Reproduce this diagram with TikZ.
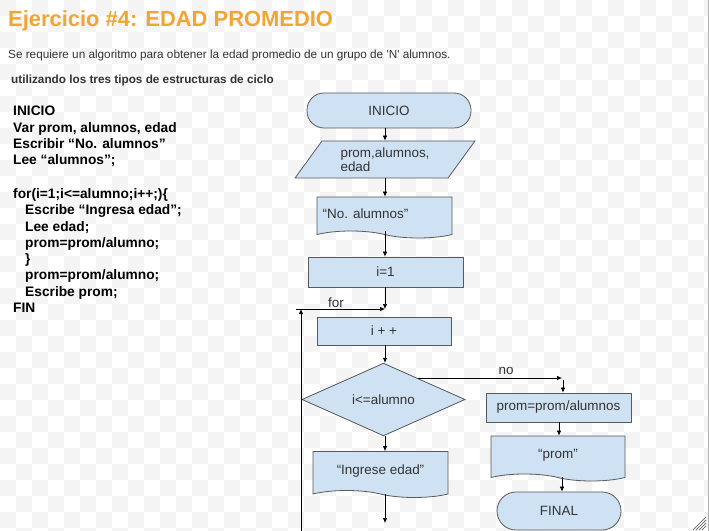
\documentclass[tikz,border=0pt]{standalone}
\usepackage{fontspec}
\setmainfont{Liberation Sans}
\usetikzlibrary{positioning,arrows.meta,shapes.geometric,shapes.symbols}
\definecolor{titleorange}{RGB}{240,166,52}
\definecolor{boxblue}{RGB}{207,226,243}
\definecolor{boxline}{RGB}{89,89,89}
\definecolor{chk}{RGB}{244,244,244}
\definecolor{txtgray}{RGB}{51,51,51}
\newcommand{\fs}[1]{\fontsize{#1}{#1}\selectfont}

\tikzset{
  shp/.style={draw=boxline,fill=boxblue,line width=0.8pt,font=\fs{13.5},text=txtgray,inner sep=2bp},
  terminal/.style={shp,rectangle,rounded corners=17bp,minimum height=35bp},
  procbox/.style={shp,rectangle,minimum height=29bp},
  inbox/.style={shp,trapezium,trapezium left angle=54,trapezium right angle=126,trapezium stretches=true,minimum height=37bp},
  docbox/.style={shp,tape,tape bend top=none,tape bend bottom=out and in,tape bend height=7bp},
  decision/.style={shp,diamond,minimum width=163bp,minimum height=55bp,inner sep=0pt},
  arrow/.style={draw=black,line width=0.7pt,-{Latex[length=5bp,width=4.5bp]}},
}

\begin{document}
\begin{tikzpicture}[x=1bp,y=-1bp]
\useasboundingbox (0,0) rectangle (709,531);
% checkered background
\fill[white] (0,0) rectangle (709,531);
\foreach \i in {0,...,44} {
  \foreach \j in {0,...,33} {
    \pgfmathparse{int(mod(\i+\j,2))}
    \ifnum\pgfmathresult=0 \fill[chk] (16*\i,16*\j) rectangle ++(16,16); \fi
  }
}
\draw[gray!60,line width=1pt] (708,0) -- (708,531);
\foreach \k in {4,7,10,13} {\draw[black!70,line width=0.5pt] (706-\k,530) -- (706,530-\k);}

% header
\node[anchor=base west,inner sep=0pt,font=\bfseries\fs{22},text=titleorange] (titulo) at (8,27) {Ejercicio \#4: EDAD PROMEDIO};
\node[anchor=base west,inner sep=0pt,font=\fs{11.8},text=txtgray] (enunciado) at (8,59) {Se requiere un algoritmo para obtener la edad promedio de un grupo de \textquotesingle N\textquotesingle\ alumnos.};
\node[anchor=base west,inner sep=0pt,font=\bfseries\fs{11.8},text=txtgray] (subtitulo) at (11,84) {utilizando los tres tipos de estructuras de ciclo};

% pseudocode
\node[anchor=north west,inner sep=0pt,align=left,font=\bfseries\fontsize{13.8}{16.3}\selectfont] (pseudo) at (13,106) {%
INICIO\\
Var prom, alumnos, edad\\
Escribir “No. alumnos”\\
Lee “alumnos”;\\[18bp]
for(i=1;i<=alumno;i++;)\{\\
\hspace*{12bp}Escribe “Ingresa edad”;\\
\hspace*{12bp}Lee edad;\\
\hspace*{12bp}prom=prom/alumno;\\
\hspace*{12bp}\}\\
\hspace*{12bp}prom=prom/alumno;\\
\hspace*{12bp}Escribe prom;\\
FIN};

% flowchart
\node[terminal,minimum width=164bp] (inicio) at (389,110.5) {INICIO};
\node[inbox,minimum width=180bp,align=left] (datos) at (385,159.5) {prom,alumnos,\\edad};
\node[docbox,minimum width=135bp,minimum height=41bp] (nalum) at (384.5,214) {\hspace*{-38bp}“No. alumnos”};
\node[procbox,minimum width=155bp,minimum height=30bp] (ini) at (385.5,272) {i=1};
\coordinate (jfor) at (385,309);
\coordinate (loopbot) at (301,531);
\coordinate (loopleft) at (296,309);
\node[procbox,minimum width=134bp,minimum height=28bp] (incr) at (384,331) {i + +};
\node[decision] (cond) at (383.5,399.5) {i<=alumno};
\node[docbox,minimum width=135bp,minimum height=46bp] (ingrese) at (380.5,471) {“Ingrese edad”};
\coordinate (finlazo) at (385,523);
\node[procbox,minimum width=145bp] (promcalc) at (558.5,407.5) {prom=prom/alumnos};
\node[docbox,minimum width=134bp,minimum height=45bp] (promout) at (558,455) {“prom”};
\node[terminal,minimum width=124bp,minimum height=38bp,rounded corners=19bp] (final) at (559,511) {FINAL};
\coordinate (nostart) at (418,378);
\coordinate (noend) at (562,378);

\draw[arrow] (inicio.south -| 385,0) -- (datos.north -| 385,0);
\draw[arrow] (datos.south -| 385,0) -- (nalum.north -| 385,0);
\draw[arrow] (nalum.south -| 385,0) -- (ini.north -| 385,0);
\draw[arrow] (ini.south -| jfor) -- (jfor);
\draw[arrow] (loopleft) -- (jfor);
\draw[arrow] (loopbot) -- (loopbot |- jfor);
\node[font=\fs{13.5},text=txtgray,anchor=base] (forlbl) at (336,307) {for};
\draw[arrow] (incr.south -| 385,0) -- (cond.north -| 385,0);
\draw[arrow] (cond.south -| 385,0) -- (ingrese.north -| 385,0);
\draw[arrow] (ingrese.south -| 385,0) ++(0,3) -- (finlazo);
\draw[arrow] (nostart) -- (noend);
\node[font=\fs{13.5},text=txtgray,anchor=base] (nolbl) at (506,374) {no};
\draw[arrow] (noend) ++(1,2) -- (promcalc.north -| 563,0);
\draw[arrow] (promcalc.south -| 559,0) -- (promout.north -| 559,0);
\draw[arrow] (promout.south -| 562,0) ++(0,3) -- (final.north -| 562,0);
\end{tikzpicture}
\end{document}
